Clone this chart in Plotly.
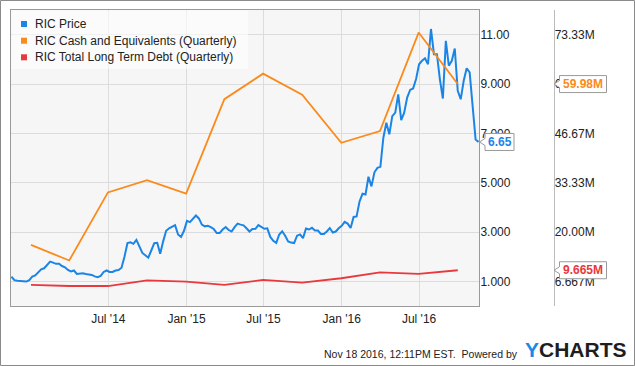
import pandas as pd
import plotly.graph_objects as go

# ---------------- data ----------------
price = [
    1.19, 1.05, 1.02, 1.02, 1.00, 0.99, 1.05, 1.19, 1.24, 1.35,
    1.49, 1.53, 1.65, 1.80, 1.76, 1.71, 1.71, 1.62, 1.57, 1.46,
    1.40, 1.44, 1.30, 1.33, 1.33, 1.30, 1.29, 1.26, 1.20, 1.17,
    1.22, 1.38, 1.44, 1.38, 1.38, 1.44, 1.46, 1.55, 2.00, 2.55,
    2.58, 2.52, 2.68, 2.40, 2.15, 2.06, 1.96, 2.25, 2.55, 2.56,
    2.12, 2.62, 3.05, 3.15, 3.20, 3.28, 2.90, 2.80, 3.05, 3.45,
    3.40, 3.55, 3.67, 3.55, 3.30, 3.23, 3.25, 3.20, 3.12, 2.96,
    2.96, 3.10, 3.20, 3.08, 3.02, 3.20, 3.34, 3.30, 3.27, 3.15,
    3.02, 3.12, 3.13, 3.28, 3.20, 3.13, 3.15, 2.80, 2.64, 2.56,
    2.90, 3.03, 2.85, 2.62, 2.57, 2.55, 2.85, 2.90, 2.75, 3.14,
    3.10, 3.17, 3.06, 3.06, 2.92, 2.92, 3.02, 3.16, 2.98, 3.02,
    3.15, 3.25, 3.41, 3.34, 3.16, 3.61, 3.63, 4.24, 4.55, 4.52,
    5.24, 4.85, 5.42, 5.60, 5.64, 6.82, 7.43, 6.96, 7.70, 7.84,
    8.58, 7.54, 7.84, 8.45, 8.76, 8.82, 9.20, 9.80, 9.94, 10.04,
    9.80, 11.23, 10.21, 10.21, 9.19, 8.41, 10.75, 9.74, 9.94, 10.44,
    8.72, 8.38, 9.13, 9.64, 9.47, 8.11, 6.75, 6.65,
]
price_dates = pd.date_range("2013-11-15", periods=len(price), freq="7D")

quarter_dates = [
    "2013-12-31", "2014-03-31", "2014-06-30", "2014-09-30",
    "2014-12-31", "2015-03-31", "2015-06-30", "2015-09-30",
    "2015-12-31", "2016-03-31", "2016-06-30", "2016-09-30",
]
cash_m = [16.5, 12.3, 30.7, 34.0, 30.4, 55.9, 62.8, 57.1, 44.1, 47.3, 73.9, 59.98]
debt_m = [5.7, 5.4, 5.4, 6.9, 6.6, 5.7, 7.05, 6.3, 7.5, 9.1, 8.7, 9.665]

x_tickvals = ["2014-07-01", "2015-01-01", "2015-07-01", "2016-01-01", "2016-07-01"]
x_ticktext = ["Jul '14", "Jan '15", "Jul '15", "Jan '16", "Jul '16"]
price_tickvals = [1, 3, 5, 7, 9, 11]
price_ticktext = ["1.000", "3.000", "5.000", "7.000", "9.000", "11.00"]
m_tickvals = [6.667, 20.0, 33.33, 46.67, 60.0, 73.33]
m_ticktext = ["6.667M", "20.00M", "33.33M", "46.67M", "60.00M", "73.33M"]

names = ["RIC Price", "RIC Cash and Equivalents (Quarterly)", "RIC Total Long Term Debt (Quarterly)"]

# ---------------- styling ----------------
BLUE = "#1a85e6"
ORANGE = "#fb8a1c"
RED = "#e8393e"
FONT = "Liberation Sans, Arial, sans-serif"
TXT = "#222222"
GRID = "#dcdcdc"

W, H = 635, 366
ML, MR, MT, MB = 11, 20, 10, 60
PW = W - ML - MR
PH = H - MT - MB


def px(x):
    return (x - ML) / PW


def py(y):
    return (H - MB - y) / PH


fig = go.Figure()
fig.add_trace(go.Scatter(x=price_dates, y=price, mode="lines", name=names[0],
                         line=dict(color=BLUE, width=2), showlegend=False, yaxis="y"))
fig.add_trace(go.Scatter(x=quarter_dates, y=cash_m, mode="lines", name=names[1],
                         line=dict(color=ORANGE, width=1.8), showlegend=False, yaxis="y2"))
fig.add_trace(go.Scatter(x=quarter_dates, y=debt_m, mode="lines", name=names[2],
                         line=dict(color=RED, width=1.8), showlegend=False, yaxis="y2"))

dom_right = px(479)

fig.update_layout(
    width=W, height=H, autosize=False,
    margin=dict(l=ML, r=MR, t=MT, b=MB, pad=0),
    paper_bgcolor="white", plot_bgcolor="#f6f6f6",
    font=dict(family=FONT, size=12, color=TXT),
    showlegend=False,
    xaxis=dict(
        type="date", domain=[0, dom_right],
        range=["2013-11-14", "2016-11-19"],
        tickmode="array", tickvals=x_tickvals, ticktext=x_ticktext,
        showgrid=True, gridcolor=GRID, gridwidth=1,
        showline=True, linecolor="#9a9a9a", linewidth=1, mirror=True,
        ticks="outside", ticklen=2, tickcolor="rgba(0,0,0,0)",
        tickfont=dict(size=12, color=TXT), zeroline=False, automargin=False,
    ),
    yaxis=dict(
        range=[0, 12], side="right", anchor="x",
        tickmode="array", tickvals=price_tickvals, ticktext=price_ticktext,
        showgrid=True, gridcolor=GRID, gridwidth=1,
        showline=True, linecolor="#9a9a9a", linewidth=1, mirror=True,
        ticks="", ticklabelstandoff=-2,
        tickfont=dict(size=12, color=TXT), zeroline=False, automargin=False,
    ),
    yaxis2=dict(
        range=[0, 80], side="right", overlaying="y", anchor="free",
        position=px(554.7),
        tickmode="array", tickvals=m_tickvals, ticktext=m_ticktext,
        showgrid=False, showline=False,
        ticks="", ticklabelstandoff=-1,
        tickfont=dict(size=12, color=TXT), zeroline=False, automargin=False,
    ),
)

shapes = []
annotations = []

# outer frame
shapes.append(dict(type="rect", xref="paper", yref="paper",
                   x0=px(0.5), x1=px(634.5), y0=py(365.5), y1=py(0.5),
                   line=dict(color="#8a8a8a", width=1), layer="above"))

# separator line of the second value axis
shapes.append(dict(type="line", xref="paper", yref="paper",
                   x0=px(554.5), x1=px(554.5), y0=0, y1=1,
                   line=dict(color="#bbbbbb", width=1), layer="above"))

# custom legend
shapes.append(dict(type="rect", xref="paper", yref="paper",
                   x0=px(11.5), x1=px(248), y0=py(69), y1=py(10.5),
                   fillcolor="rgba(255,255,255,0.6)", line=dict(width=0), layer="above"))
legend_rows = [24, 40.7, 57.3]
for nm, col, yc in zip(names, [BLUE, ORANGE, RED], legend_rows):
    shapes.append(dict(type="rect", xref="paper", yref="paper",
                       x0=px(21), x1=px(27), y0=py(yc + 3), y1=py(yc - 3),
                       fillcolor=col, line=dict(width=0), layer="above"))
    annotations.append(dict(text=nm, xref="paper", yref="paper", x=px(32.5), y=py(yc),
                            xanchor="left", yanchor="middle", showarrow=False,
                            font=dict(family=FONT, size=12, color=TXT)))

# end-value callouts (box with left notch drawn in pixel units around the last value)
def callout(value, yref, left_px, width, color, text):
    shapes.append(dict(type="path", xref="paper", yref=yref,
                       xsizemode="pixel", ysizemode="pixel",
                       xanchor=px(left_px), yanchor=value,
                       path=f"M 0,3.5 L -5.5,0 L 0,-3.5 L 0,-8.5 L {width},-8.5 L {width},8.5 L 0,8.5 Z",
                       fillcolor="white", line=dict(color="#9a9a9a", width=1), layer="above"))
    annotations.append(dict(text=f"<b>{text}</b>", xref="paper", yref=yref,
                            x=px(left_px + width / 2), y=value,
                            xanchor="center", yanchor="middle", showarrow=False,
                            font=dict(family=FONT, size=12, color=color)))

callout(price[-1], "y", 485, 29, BLUE, f"{price[-1]:.2f}")
callout(cash_m[-1], "y2", 559.5, 47, ORANGE, f"{cash_m[-1]:.2f}M")
callout(debt_m[-1], "y2", 559.5, 47, RED, f"{debt_m[-1]:.3f}M")

# footer
annotations.append(dict(text="Nov 18 2016, 12:11PM EST.\u00a0\u00a0Powered by",
                        xref="paper", yref="paper", x=px(519.5), y=py(353.5),
                        xanchor="right", yanchor="middle", showarrow=False,
                        font=dict(family=FONT, size=10.5, color=TXT)))
annotations.append(dict(text="<b><span style='color:#1a8ae8'>Y</span>CHARTS</b>",
                        xref="paper", yref="paper", x=px(522.5), y=py(349.5),
                        xanchor="left", yanchor="middle", showarrow=False,
                        font=dict(family=FONT, size=21, color="#1e1e1e")))

fig.update_layout(shapes=shapes, annotations=annotations)

# remove the browser's default 8px body margin so the 635x366 figure fills the window
fig.write_html(
    "out.html",
    config={"displayModeBar": False},
    post_script="document.body.style.margin='0';document.body.style.overflow='hidden';",
)
